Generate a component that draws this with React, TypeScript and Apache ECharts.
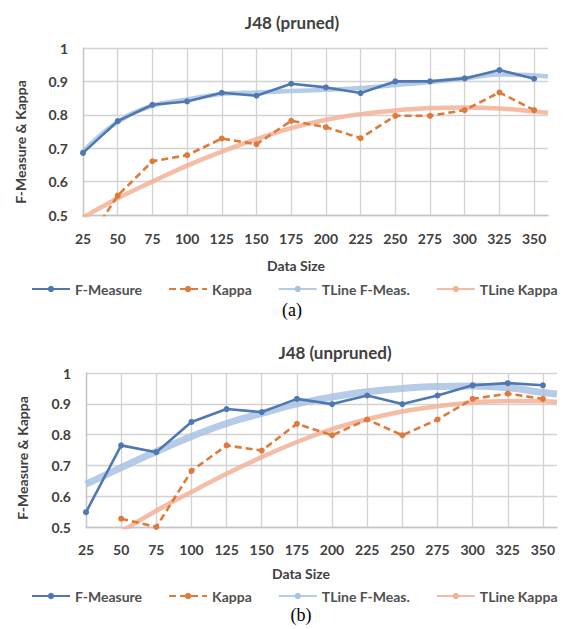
import React, { useEffect, useRef } from "react";
import * as echarts from "echarts";

// ---- data ----
const sizes = [25, 50, 75, 100, 125, 150, 175, 200, 225, 250, 275, 300, 325, 350];
const trendSizes = [25, 50, 75, 100, 125, 150, 175, 200, 225, 250, 275, 300, 325, 350, 360];
const kappaSizesB = [50, 75, 100, 125, 150, 175, 200, 225, 250, 275, 300, 325, 350];
const trendKappaSizesB = [50, 75, 100, 125, 150, 175, 200, 225, 250, 275, 300, 325, 350, 360];

// (a) J48 (pruned)
const fMeasureA = [0.686, 0.781, 0.83, 0.84, 0.866, 0.857, 0.893, 0.882, 0.865, 0.9, 0.9, 0.909, 0.934, 0.908];
const kappaA = [0.4, 0.558, 0.661, 0.679, 0.729, 0.712, 0.782, 0.763, 0.73, 0.797, 0.797, 0.814, 0.867, 0.814];
const tlineFA = [0.69, 0.779, 0.827, 0.846, 0.862, 0.867, 0.871, 0.875, 0.88, 0.889, 0.898, 0.909, 0.921, 0.918, 0.915];
const tlineKA = [0.492, 0.55, 0.6, 0.648, 0.69, 0.727, 0.76, 0.785, 0.802, 0.813, 0.82, 0.822, 0.819, 0.81, 0.806];

// (b) J48 (unpruned)
const fMeasureB = [0.548, 0.765, 0.743, 0.841, 0.883, 0.873, 0.916, 0.899, 0.927, 0.899, 0.927, 0.96, 0.967, 0.96];
const kappaB = [0.527, 0.5, 0.682, 0.765, 0.748, 0.835, 0.798, 0.849, 0.798, 0.849, 0.916, 0.933, 0.916];
const tlineFB = [0.639, 0.693, 0.745, 0.794, 0.836, 0.869, 0.9, 0.922, 0.939, 0.95, 0.956, 0.958, 0.952, 0.937, 0.932];
const tlineKB = [0.485, 0.553, 0.614, 0.673, 0.727, 0.776, 0.818, 0.85, 0.875, 0.892, 0.904, 0.909, 0.908, 0.906];

const yTicks = [0.5, 0.6, 0.7, 0.8, 0.9, 1];
const legendNames = ["F-Measure", "Kappa", "TLine F-Meas.", "TLine Kappa"];

const BLUE = "#4f78b3";
const ORANGE = "#e07a3a";
const LBLUE = "#a8c2e2";
const LORANGE = "#f3b096";
const TXT = "#404040";
const FONT = "Lato";

const pairs = (xs: number[], ys: number[]) => xs.map((x, i) => [x, ys[i]]);

function xAxisCfg(gridIndex: number, margin: number) {
  return {
    type: "value",
    gridIndex,
    min: 25,
    max: 360,
    interval: 25,
    axisLine: { show: true, lineStyle: { color: "#c4c4c4", width: 1.3 } },
    axisTick: { show: false },
    axisLabel: {
      showMaxLabel: false,
      margin,
      fontFamily: FONT,
      fontWeight: "bold",
      fontSize: 14,
      color: TXT,
    },
    splitLine: { show: true, showMaxLine: false, lineStyle: { color: "#d2d2d2", width: 1.3 } },
  };
}

function yAxisCfg(gridIndex: number) {
  return {
    type: "value",
    gridIndex,
    min: yTicks[0],
    max: yTicks[yTicks.length - 1],
    interval: 0.1,
    axisLine: { show: true, lineStyle: { color: "#c4c4c4", width: 1.3 } },
    axisTick: { show: false },
    axisLabel: {
      margin: 15,
      fontFamily: FONT,
      fontWeight: "bold",
      fontSize: 14,
      color: TXT,
      formatter: (v: number) => (Math.abs(v - 1) < 1e-9 ? "1" : v.toFixed(1)),
    },
    splitLine: { show: true, lineStyle: { color: "#d2d2d2", width: 1.3 } },
  };
}

function seriesFor(idx: number, f: number[], fx: number[], k: number[], kx: number[], tf: number[], tfx: number[], tk: number[], tkx: number[], tfWidth: number) {
  return [
    {
      name: "TLine F-Meas.",
      type: "line",
      xAxisIndex: idx,
      yAxisIndex: idx,
      data: pairs(tfx, tf),
      smooth: 0.4,
      showSymbol: false,
      symbol: "none",
      z: 2,
      lineStyle: { color: LBLUE, width: tfWidth, opacity: 0.85 },
      itemStyle: { color: LBLUE },
    },
    {
      name: "TLine Kappa",
      type: "line",
      xAxisIndex: idx,
      yAxisIndex: idx,
      data: pairs(tkx, tk),
      smooth: 0.4,
      showSymbol: false,
      symbol: "none",
      z: 2,
      lineStyle: { color: LORANGE, width: 4.5, opacity: 0.85 },
      itemStyle: { color: LORANGE },
    },
    {
      name: "F-Measure",
      type: "line",
      xAxisIndex: idx,
      yAxisIndex: idx,
      data: pairs(fx, f),
      symbol: "circle",
      symbolSize: 6,
      z: 3,
      lineStyle: { color: BLUE, width: 2.6 },
      itemStyle: { color: BLUE },
    },
    {
      name: "Kappa",
      type: "line",
      xAxisIndex: idx,
      yAxisIndex: idx,
      data: pairs(kx, k),
      symbol: "circle",
      symbolSize: 6,
      z: 3,
      lineStyle: { color: ORANGE, width: 2.6, type: [7, 4] },
      itemStyle: { color: ORANGE },
    },
  ];
}

function textEl(text: string, x: number, y: number, size: number, weight: string, extra: any = {}) {
  return {
    type: "text",
    x,
    y,
    ...extra,
    style: {
      text,
      align: "center",
      verticalAlign: "middle",
      fontFamily: extra.fontFamily || FONT,
      fontSize: size,
      fontWeight: weight,
      fill: extra.fill || TXT,
    },
  };
}

export default function App() {
  const ref = useRef<HTMLDivElement>(null);
  useEffect(() => {
    if (!ref.current) return;
    const chart = echarts.init(ref.current, null, { renderer: "svg" });
    const legendBase = {
      data: legendNames,
      padding: 0,
      itemWidth: 38,
      itemHeight: 8,
      itemGap: 26,
      textStyle: { fontFamily: FONT, fontSize: 14, fontWeight: "bold", color: "#505050" },
    };
    chart.setOption({
      animation: false,
      backgroundColor: "#ffffff",
      grid: [
        { left: 83, top: 48, width: 465, height: 167 },
        { left: 86, top: 373, width: 471, height: 154 },
      ],
      xAxis: [xAxisCfg(0, 16), xAxisCfg(1, 15)],
      yAxis: [yAxisCfg(0), yAxisCfg(1)],
      legend: [
        { ...legendBase, left: 31, top: 282 },
        { ...legendBase, left: 31, top: 589 },
      ],
      series: [
        ...seriesFor(0, fMeasureA, sizes, kappaA, sizes, tlineFA, trendSizes, tlineKA, trendSizes, 4.5),
        ...seriesFor(1, fMeasureB, sizes, kappaB, kappaSizesB, tlineFB, trendSizes, tlineKB, trendKappaSizesB, 7),
      ],
      graphic: [
        textEl("J48 (pruned)", 292, 22, 17, "bold"),
        textEl("J48 (unpruned)", 335, 352, 17, "bold"),
        textEl("F-Measure & Kappa", 20, 142, 14, "bold", { rotation: Math.PI / 2 }),
        textEl("F-Measure & Kappa", 22, 458, 14, "bold", { rotation: Math.PI / 2 }),
        textEl("Data Size", 296, 265, 14, "bold"),
        textEl("Data Size", 301, 573, 14, "bold"),
        textEl("(a)", 292, 310, 18, "normal", { fontFamily: "Liberation Serif", fill: "#000000" }),
        textEl("(b)", 301, 615, 18, "normal", { fontFamily: "Liberation Serif", fill: "#000000" }),
      ],
    });
    return () => chart.dispose();
  }, []);
  return (
    <div
      ref={ref}
      style={{ position: "absolute", left: 0, top: 0, width: 568, height: 629, background: "#fff" }}
    />
  );
}
